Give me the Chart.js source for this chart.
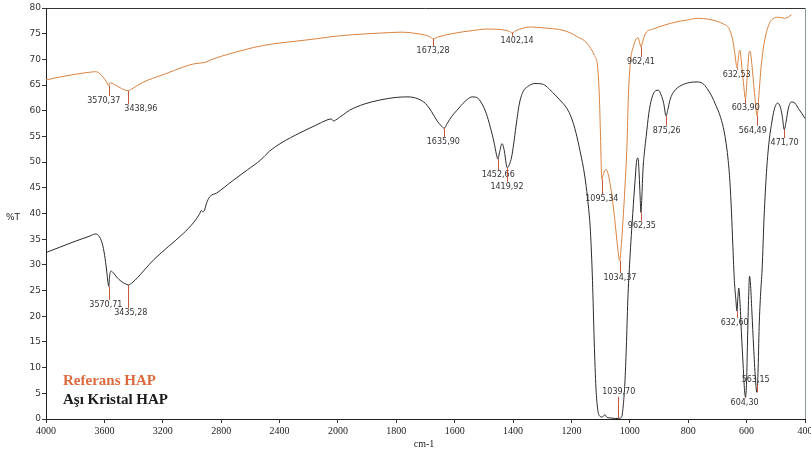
<!DOCTYPE html>
<html><head><meta charset="utf-8">
<script src="https://cdn.jsdelivr.net/npm/chart.js@4.4.0/dist/chart.umd.min.js"></script>
<style>html,body{margin:0;padding:0;background:#fff}#wrap{width:811px;height:454px;position:relative}</style>
</head><body><div id="wrap"><canvas id="c"></canvas></div>
<script>
// Axis tick labels (wavenumber, cm-1) — the x axis has a scale change at 2000
const xTickLabels = ['4000','3600','3200','2800','2400','2000','1800','1600','1400','1200','1000','800','600','400'];

// Referans HAP
const refWn = [4000,3900,3800,3700,3660,3630,3605,3585,3572,3566,3555,3530,3500,3465,3440,3415,3380,3330,3270,3180,3060,2990,2940,2910,2870,2800,2700,2580,2450,2300,2150,2050,1950,1860,1780,1740,1700,1685,1673,1655,1610,1540,1490,1440,1415,1402,1390,1340,1290,1240,1205,1180,1155,1137,1122,1110,1104,1100,1096,1090,1082,1074,1064,1052,1042,1035,1029,1022,1015,1010,1005,998,988,978,972,967,962,956,946,920,880,840,800,765,730,700,680,665,655,647,640,635,632,628,623,618,611,604,598,592,588,582,573,564,558,552,545,535,522,510,490,470,458,446];
const refT  = [66.0,66.6,67.1,67.5,67.6,67.2,66.4,65.6,64.9,65.3,65.4,65.1,64.6,64.1,63.9,64.2,64.8,65.6,66.3,67.2,68.5,69.1,69.3,69.4,69.9,70.6,71.4,72.3,73.0,73.5,74.0,74.4,74.8,75.1,75.3,75.1,74.7,74.4,74.0,74.4,75.0,75.6,75.9,75.8,75.5,75.2,75.6,76.3,76.1,75.8,75.2,74.4,73.6,72.4,70.8,68.3,62.0,54.0,46.6,47.8,48.6,47.6,44.5,39.0,33.5,30.8,34.0,40.0,47.0,53.0,63.0,69.5,72.5,74.0,74.2,73.4,72.4,73.5,75.1,75.9,76.7,77.3,77.7,78.0,77.8,77.4,76.9,76.4,75.3,73.6,71.0,68.8,68.3,70.5,71.8,69.5,65.5,62.4,66.5,71.2,71.6,69.0,63.5,59.0,63.0,67.5,71.2,74.6,77.0,77.9,78.2,78.0,78.2,78.7];

// Aşı Kristal HAP
const hapWn = [4000,3900,3800,3700,3665,3640,3615,3598,3585,3575,3570,3565,3555,3540,3515,3485,3455,3435,3410,3370,3320,3262,3160,3060,2990,2950,2935,2925,2915,2900,2880,2830,2720,2620,2530,2470,2390,2260,2150,2075,2045,2030,2015,1995,1980,1960,1910,1855,1800,1760,1725,1700,1680,1660,1645,1636,1625,1610,1592,1565,1540,1525,1508,1492,1478,1465,1457,1452,1446,1438,1430,1424,1420,1413,1405,1398,1390,1378,1365,1350,1325,1300,1265,1240,1215,1200,1185,1170,1155,1145,1135,1128,1122,1116,1110,1104,1095,1085,1078,1065,1050,1038,1028,1022,1017,1012,1007,1000,990,982,976,972,968,965,962,959,955,950,944,935,925,912,902,893,884,876,870,862,848,825,795,770,750,735,720,705,692,680,672,664,657,652,647,642,637,633,630,627,623,618,612,607,604,600,597,593,590,587,582,576,570,565,561,557,552,547,540,532,524,515,505,494,485,478,471,465,457,447,435,420,410,400];
const hapT  = [32.4,33.5,34.6,35.6,36.0,35.7,34.2,31.8,29.0,26.5,25.8,27.6,28.8,28.5,27.6,26.8,26.3,26.1,26.5,27.6,29.2,31.0,33.6,36.1,38.2,39.8,40.6,40.3,40.6,42.0,43.2,44.0,46.4,48.5,50.4,52.1,53.7,55.7,57.2,58.2,58.4,58.0,58.2,58.7,59.3,60.1,61.3,62.1,62.6,62.7,62.3,61.4,59.9,58.0,57.0,56.6,57.6,58.9,60.1,61.8,62.7,62.6,61.5,59.5,56.8,53.8,51.5,50.6,52.0,53.6,52.2,49.8,48.9,49.5,51.0,53.5,57.0,61.5,63.8,64.7,65.3,65.2,63.6,62.1,60.4,58.6,55.8,52.0,47.5,43.0,36.5,27.0,15.0,6.0,1.8,0.6,0.4,0.8,0.3,0.2,0.1,0.1,0.4,3.0,7.0,14.0,23.0,31.0,40.0,46.5,50.5,50.8,47.5,43.5,40.2,43.0,48.5,52.0,55.0,59.5,62.4,63.9,64.0,63.1,61.4,59.0,60.2,62.2,63.8,64.9,65.5,65.6,65.3,64.3,62.9,61.0,59.2,56.8,54.3,50.8,46.0,40.5,33.5,27.0,23.3,21.0,23.5,25.5,23.0,17.0,10.5,5.5,4.3,7.5,15.0,24.0,27.8,26.5,21.0,14.0,8.0,5.2,9.0,18.0,24.5,29.0,39.5,48.0,53.5,57.3,60.3,61.5,60.8,59.0,56.3,57.8,60.5,61.7,61.5,60.2,59.4,58.5];

// Peak annotations: peak wavenumber, %T at the curve, label centre (wavenumber, %T)
const peakWn  = [3570.37,3438.96,1673.28,1402.14,962.41,632.53,603.90,564.49,1095.34,1034.37, 3570.71,3435.28,1635.90,1452.66,1419.92,962.35,875.26,471.70,1039.70,632.60,563.15,604.30];
const peakTip = [64.9,63.9,74.0,75.2,72.4,68.3,62.4,59.0,46.6,30.8, 25.8,26.1,56.6,50.6,48.9,40.2,59.0,56.3,0.1,21.0,5.2,4.3];
const labelWn = [3604,3350,1674,1386,962,634,603,579,1096,1034, 3590,3419,1639,1451,1421,959,874,470,1038,641,569,607];
const labelT  = [61.9,60.3,71.6,73.6,69.5,67.0,60.5,56.1,42.8,27.4, 22.2,20.6,53.9,47.5,45.2,37.6,56.1,53.7,5.3,18.7,7.6,3.1];

const seriesNames = ['Referans HAP','Aşı Kristal HAP'];

function pos(w){ return w >= 2000 ? (4000 - w) / 400 : 5 + (2000 - w) / 200; }
function pts(ws, ts){ return ws.map((w,i)=>({x:pos(w), y:ts[i]})); }

const extras = {
  id:'extras',
  afterDatasetsDraw(chart){
    const {ctx, chartArea:a, scales:{x,y}} = chart;
    ctx.save();
    // frame top & right
    ctx.lineWidth = 1;
    ctx.strokeStyle = '#333';
    ctx.beginPath(); ctx.moveTo(a.left, a.top+0.5); ctx.lineTo(a.right, a.top+0.5); ctx.stroke();
    ctx.strokeStyle = '#8a9a9a';
    ctx.beginPath(); ctx.moveTo(a.right+0.5, a.top); ctx.lineTo(a.right+0.5, a.bottom); ctx.stroke();
    // peak markers
    ctx.font = '8px "DejaVu Sans"';
    ctx.textAlign = 'center'; ctx.textBaseline = 'middle';
    for (let i=0;i<peakWn.length;i++){
      const px = Math.round(x.getPixelForValue(pos(peakWn[i])))+0.5;
      const py = y.getPixelForValue(peakTip[i]);
      const lx = x.getPixelForValue(pos(labelWn[i]));
      const ly = y.getPixelForValue(labelT[i]);
      const end = ly > py ? ly - 5 : ly + 5;
      if ((ly > py && end > py) || (ly < py && end < py)){
        ctx.strokeStyle = '#c8583c';
        ctx.beginPath(); ctx.moveTo(px, py); ctx.lineTo(px, end); ctx.stroke();
      }
      ctx.fillStyle = '#333';
      ctx.fillText(peakWn[i].toFixed(2).replace('.',','), lx, ly);
    }
    // legend
    ctx.textAlign = 'left';
    ctx.font = 'bold 15px "Liberation Serif"';
    ctx.fillStyle = '#dd6a3c';
    ctx.fillText(chart.data.datasets[0].label, 63, 381);
    ctx.fillStyle = '#1a1a1a';
    ctx.fillText(chart.data.datasets[1].label, 63, 400);
    // axis titles
    ctx.fillStyle = '#222';
    ctx.font = '9px "DejaVu Sans"';
    ctx.textAlign = 'center';
    ctx.fillText('%T', 13, 218);
    ctx.font = '10px "Liberation Serif"';
    ctx.fillText('cm-1', 424, 444);
    ctx.restore();
  }
};

new Chart(document.getElementById('c'), {
  type:'line',
  data:{ datasets:[
    { label:seriesNames[0], data:pts(refWn, refT), borderColor:'#d9823f', borderWidth:1, pointRadius:0, cubicInterpolationMode:'monotone', fill:false },
    { label:seriesNames[1], data:pts(hapWn, hapT), borderColor:'#2a2a2a', borderWidth:1, pointRadius:0, cubicInterpolationMode:'monotone', fill:false }
  ]},
  options:{
    responsive:true, maintainAspectRatio:false, animation:false,
    layout:{ padding:{ top:8, right:6, left:0, bottom:0 } },
    plugins:{ legend:{display:false}, tooltip:{enabled:false} },
    scales:{
      x:{ type:'linear', min:0, max:13,
        ticks:{ stepSize:1, autoSkip:false, maxRotation:0, padding:2, color:'#222',
          font:{ family:'Liberation Serif', size:10 },
          callback:(v)=> xTickLabels[Math.round(v)] ?? '' },
        grid:{ display:true, drawOnChartArea:false, drawTicks:true, tickLength:4, color:'#333' },
        border:{ display:true, color:'#222', width:1 },
        afterFit(s){ s.height = 35; s.paddingLeft = 0; s.paddingRight = 0; }
      },
      y:{ min:0, max:80,
        ticks:{ stepSize:5, padding:1, color:'#333', font:{ family:'DejaVu Sans', size:9 } },
        grid:{ display:true, drawOnChartArea:false, drawTicks:true, tickLength:4, color:'#333' },
        border:{ display:true, color:'#222', width:1 },
        afterFit(s){ s.width = 46; s.paddingTop = 0; s.paddingBottom = 0; }
      }
    }
  },
  plugins:[extras]
});
</script></body></html>
